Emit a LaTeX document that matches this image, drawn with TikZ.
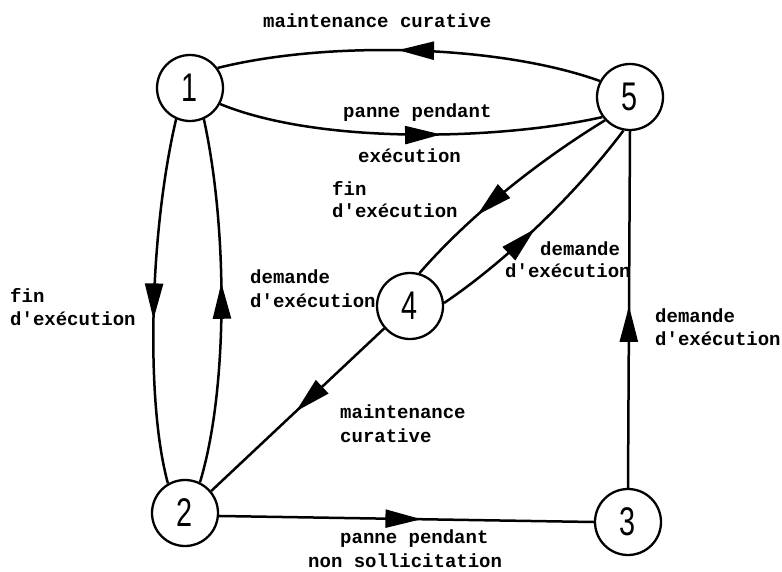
\documentclass[tikz,border=0pt]{standalone}
\usepackage{fontspec}
\setmonofont{Liberation Mono}
\newfontfamily\digitfont[FakeStretch=0.72]{Liberation Sans}
\usetikzlibrary{arrows.meta,decorations.markings}
\begin{document}
\begin{tikzpicture}[x=1pt,y=-1pt,
  state/.style={circle, draw, line width=2.3pt, minimum size=66pt, inner sep=0pt,
    font=\digitfont\fontsize{40}{40}\selectfont},
  lbl/.style={anchor=base west, inner sep=0pt,
    font=\ttfamily\bfseries\fontsize{19}{23}\selectfont},
  edge/.style={line width=2.5pt},
  mid/.style={postaction={decorate,decoration={markings,
    mark=at position #1 with {\arrow{Triangle[length=36pt,width=18pt]}}}}}]
\useasboundingbox (0,0) rectangle (782,571);
\fill[white] (0,0) rectangle (782,571);

\node[state] (n1) at (190,88) {1};
\node[state] (n5) at (630,97) {5};
\node[state] (n4) at (410,306) {4};
\node[state] (n2) at (185,513) {2};
\node[state] (n3) at (628,522) {3};

\draw[edge,mid=0.53] (n5.152) .. controls (500,45) and (330,40) .. (n1.36);
\draw[edge,mid=0.58] (n1.-28) .. controls (320,145) and (500,140) .. (n5.216);
\draw[edge,mid=0.55] (n1.246) .. controls (150,230) and (145,400) .. (n2.120);
\draw[edge,mid=0.55] (n2.64) .. controls (228,390) and (228,230) .. (n1.-66);
\draw[edge,mid=0.66] (n5.223) .. controls (540,160) and (470,215) .. (n4.74);
\draw[edge,mid=0.47] (n4.5) .. controls (505,262) and (575,195) .. (n5.259);
\draw[edge,mid=0.51] (n4.221) -- (n2.40);
\draw[edge,mid=0.51] (n3.north) -- (n5.south);
\draw[edge,mid=0.54] (n2.-5) -- (n3.180);

\node[lbl] (t1) at (263,27) {maintenance curative};
\node[lbl] (t2a) at (343,117) {panne pendant};
\node[lbl] (t2b) at (358,162) {exécution};
\node[lbl] (t3a) at (332,195) {fin};
\node[lbl] (t3b) at (332,217) {d'exécution};
\node[lbl] (t4a) at (250,283) {demande};
\node[lbl] (t4b) at (250,307) {d'exécution};
\node[lbl] (t5a) at (540,255) {demande};
\node[lbl] (t5b) at (505,277) {d'exécution};
\node[lbl] (t6a) at (655,322) {demande};
\node[lbl] (t6b) at (655,345) {d'exécution};
\node[lbl] (t7a) at (10,302) {fin};
\node[lbl] (t7b) at (10,325) {d'exécution};
\node[lbl] (t8a) at (340,418) {maintenance};
\node[lbl] (t8b) at (340,442) {curative};
\node[lbl] (t9a) at (340,543) {panne pendant};
\node[lbl] (t9b) at (308,567) {non sollicitation};
\end{tikzpicture}
\end{document}
